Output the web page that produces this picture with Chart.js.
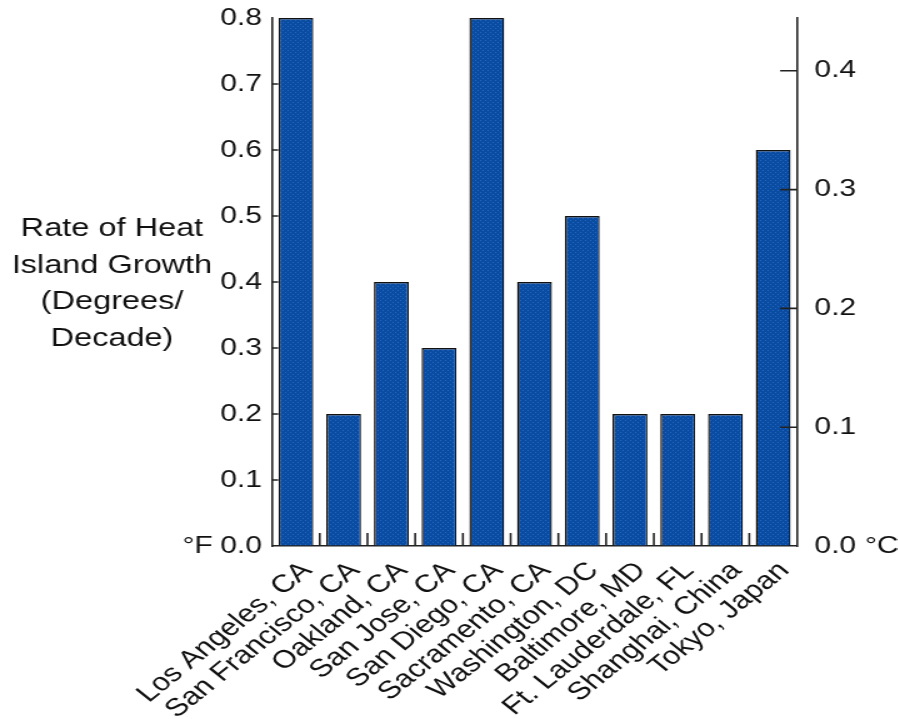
<!DOCTYPE html>
<html>
<head>
<meta charset="utf-8">
<script src="https://cdn.jsdelivr.net/npm/chart.js@4.4.0/dist/chart.umd.min.js"></script>
<style>
  html, body { margin: 0; padding: 0; background: #fff; overflow: hidden; }
  /* the source figure is stretched sideways, so draw narrow and widen */
  #wrap { width: 718px; height: 719px; transform: scaleX(1.25); transform-origin: 0 0; }
</style>
</head>
<body>
<div id="wrap"><canvas id="chart"></canvas></div>
<script>
const cities = ['Los Angeles, CA', 'San Francisco, CA', 'Oakland, CA', 'San Jose, CA', 'San Diego, CA',
  'Sacramento, CA', 'Washington, DC', 'Baltimore, MD', 'Ft. Lauderdale, FL', 'Shanghai, China', 'Tokyo, Japan'];
const rateF = [0.8, 0.2, 0.4, 0.3, 0.8, 0.4, 0.5, 0.2, 0.2, 0.2, 0.6];
const fTicks = [0, 0.1, 0.2, 0.3, 0.4, 0.5, 0.6, 0.7, 0.8];
const cTicks = [0, 0.1, 0.2, 0.3, 0.4];
const titleLines = ['Rate of Heat', 'Island Growth', '(Degrees/', 'Decade)'];

const FONT = '"Liberation Sans", Arial, Helvetica, sans-serif';
const INK = '#222';
const TOP = 18, BOTTOM = 546;

// dotted blue fill like the original bars
function barPattern() {
  const c = document.createElement('canvas');
  c.width = 4; c.height = 4;
  const g = c.getContext('2d');
  g.fillStyle = '#0b4ca3';
  g.fillRect(0, 0, 4, 4);
  g.fillStyle = '#2468c0';
  g.fillRect(0, 0, 1, 1);
  g.fillRect(2, 2, 1, 1);
  return g.createPattern(c, 'repeat');
}

const frame = {
  id: 'frame',
  afterDatasetsDraw(chart) {
    const { ctx, chartArea: a, scales: { x, y, y1 } } = chart;
    ctx.save();
    ctx.strokeStyle = INK;
    ctx.lineWidth = 1.6;
    ctx.beginPath();
    fTicks.slice(1, -1).forEach(v => {
      const py = y.getPixelForValue(v);
      ctx.moveTo(a.left, py); ctx.lineTo(a.left + 5, py);
    });
    cTicks.slice(1).forEach(v => {
      const py = y1.getPixelForValue(v);
      ctx.moveTo(a.right, py); ctx.lineTo(a.right - 13.5, py);
    });
    for (let i = 0; i < cities.length - 1; i++) {
      const px = (x.getPixelForValue(i) + x.getPixelForValue(i + 1)) / 2;
      ctx.moveTo(px, a.bottom); ctx.lineTo(px, a.bottom - 13);
    }
    ctx.stroke();

    ctx.fillStyle = '#111';
    ctx.textBaseline = 'middle';
    ctx.textAlign = 'center';
    ctx.font = '26px ' + FONT;
    titleLines.forEach((t, i) => ctx.fillText(t, 89.6, 229 + i * 36.5));
    ctx.font = '24px ' + FONT;
    ctx.textAlign = 'left';
    ctx.fillText('\u00b0F', 146, a.bottom);
    ctx.fillText('\u00b0C', 692, a.bottom);
    ctx.restore();
  }
};

// pin the plot box to the original frame
const pinArea = {
  id: 'pinArea',
  afterLayout(chart) {
    const a = chart.chartArea;
    a.top = TOP; a.bottom = BOTTOM; a.height = BOTTOM - TOP;
    ['y', 'y1'].forEach(id => {
      const s = chart.scales[id];
      s.top = TOP; s.bottom = BOTTOM; s.height = BOTTOM - TOP;
      s.configure();
    });
  }
};

new Chart(document.getElementById('chart'), {
  type: 'bar',
  data: {
    labels: cities,
    datasets: [{
      data: rateF,
      backgroundColor: barPattern(),
      borderColor: '#111',
      borderWidth: 1.4,
      barPercentage: 0.73,
      categoryPercentage: 1
    }]
  },
  options: {
    responsive: true,
    maintainAspectRatio: false,
    animation: false,
    layout: { padding: { top: 18, left: 0, right: 0, bottom: 0 } },
    plugins: { legend: { display: false }, tooltip: { enabled: false } },
    scales: {
      x: {
        grid: { drawOnChartArea: false, drawTicks: false },
        border: { display: true, color: INK, width: 1.6 },
        ticks: {
          autoSkip: false, minRotation: 45, maxRotation: 45, labelOffset: 9,
          color: '#111', font: { family: FONT, size: 25 }, padding: 10
        },
        afterFit: s => { s.height = 719 - BOTTOM; }
      },
      y: {
        position: 'left', min: 0, max: 0.8,
        grid: { drawOnChartArea: false, drawTicks: false },
        border: { display: true, color: INK, width: 1.6 },
        ticks: { color: '#111', font: { family: FONT, size: 24 }, padding: 8, callback: v => v.toFixed(1) },
        afterBuildTicks: s => { s.ticks = fTicks.map(v => ({ value: v })); },
        afterFit: s => { s.width = 217.6; }
      },
      y1: {
        position: 'right', min: 0, max: 0.8 * 5 / 9,
        grid: { drawOnChartArea: false, drawTicks: false },
        border: { display: true, color: INK, width: 1.6 },
        ticks: { color: '#111', font: { family: FONT, size: 24 }, padding: 14, callback: v => v.toFixed(1) },
        afterBuildTicks: s => { s.ticks = cTicks.map(v => ({ value: v })); },
        afterFit: s => { s.width = 80.4; }
      }
    }
  },
  plugins: [pinArea, frame]
});
</script>
</body>
</html>
